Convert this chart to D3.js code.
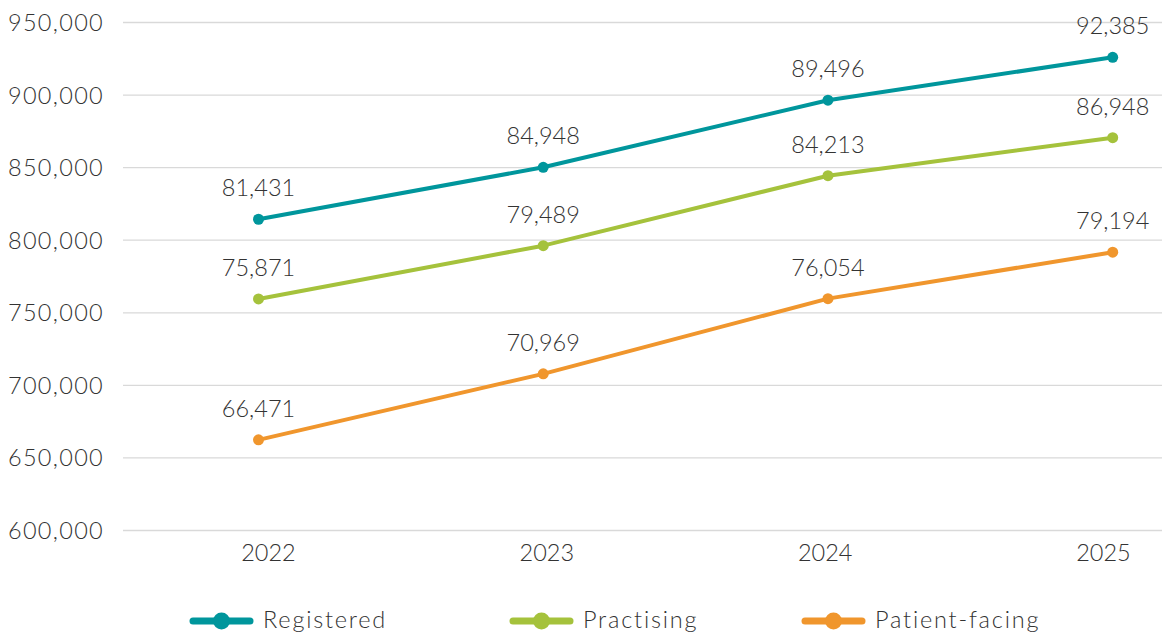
<!DOCTYPE html>
<html>
<head>
<meta charset="utf-8">
<script src="https://cdn.jsdelivr.net/npm/d3@7"></script>
<style>
  body { margin: 0; background: #fff; }
  svg text { font-family: Lato, "Open Sans", sans-serif; font-weight: 300; fill: #333; }
</style>
</head>
<body>
<svg id="chart"></svg>
<script>
// ----------------------------------------- Data -----------------------------------------

var years = ['2022', '2023', '2024', '2025'];
var seriesNames = ['Registered', 'Practising', 'Patient-facing'];
var seriesColors = ['#00969c', '#a5c23c', '#f0962d'];

// plotted values (read from point positions)
var registered = [814100, 849900, 896100, 925700];
var practising = [759200, 795900, 844100, 870300];
var patientFacing = [662100, 707600, 759400, 791400];

// printed labels
var registeredLabels = ['81,431', '84,948', '89,496', '92,385'];
var practisingLabels = ['75,871', '79,489', '84,213', '86,948'];
var patientFacingLabels = ['66,471', '70,969', '76,054', '79,194'];

var yTicks = [600000, 650000, 700000, 750000, 800000, 850000, 900000, 950000];

var series = [
  { name: seriesNames[0], color: seriesColors[0], values: registered, labels: registeredLabels },
  { name: seriesNames[1], color: seriesColors[1], values: practising, labels: practisingLabels },
  { name: seriesNames[2], color: seriesColors[2], values: patientFacing, labels: patientFacingLabels }
];

// ----------------------------------------- Chart -----------------------------------------

var width = 1162;
var height = 632;

var svg = d3.select('#chart')
  .attr('width', width)
  .attr('height', height);

var xScale = d3.scalePoint()
  .domain(years)
  .range([258.5, 1112.7]);

// year labels sit on a slightly different spread than the points
var xLabelScale = d3.scalePoint()
  .domain(years)
  .range([268, 1103]);

var yScale = d3.scaleLinear()
  .domain([600000, 950000])
  .range([530, 22]);

// Gridlines + y labels
var yAxis = svg.append('g')
  .attr('transform', 'translate(123, 0)')
  .call(d3.axisLeft(yScale)
    .tickValues(yTicks)
    .tickSize(-(width - 123))
    .tickPadding(19)
    .tickFormat(d3.format(',')));

yAxis.select('.domain').remove();
yAxis.selectAll('.tick line')
  .attr('stroke', '#d9d9d9')
  .attr('stroke-width', 1.3);
yAxis.selectAll('.tick text')
  .attr('font-size', 23.5)
  .attr('fill', '#333')
  .attr('letter-spacing', 1.3)
  .attr('dy', '0.36em');

// X labels
var xAxis = svg.append('g')
  .attr('transform', 'translate(0, 530)')
  .call(d3.axisBottom(xLabelScale).tickSize(0).tickPadding(14));

xAxis.select('.domain').remove();
xAxis.selectAll('.tick text')
  .attr('font-size', 23.5)
  .attr('fill', '#333')
  .attr('dy', '0.72em');

// Lines
var line = d3.line()
  .x((d, i) => xScale(years[i]))
  .y(d => yScale(d));

var groups = svg.selectAll('.series')
  .data(series)
  .enter()
  .append('g')
    .classed('series', true);

groups.append('path')
  .attr('d', d => line(d.values))
  .attr('fill', 'none')
  .attr('stroke', d => d.color)
  .attr('stroke-width', 4)
  .attr('stroke-linejoin', 'round');

groups.selectAll('circle')
  .data(d => d.values.map((v, i) => ({ v: v, year: years[i], color: d.color })))
  .enter()
  .append('circle')
    .attr('cx', d => xScale(d.year))
    .attr('cy', d => yScale(d.v))
    .attr('r', 5.5)
    .attr('fill', d => d.color);

groups.selectAll('.value-label')
  .data(d => d.values.map((v, i) => ({ v: v, year: years[i], label: d.labels[i] })))
  .enter()
  .append('text')
    .classed('value-label', true)
    .attr('x', d => xScale(d.year))
    .attr('y', d => yScale(d.v) - 23)
    .attr('text-anchor', 'middle')
    .attr('font-size', 23.5)
    .text(d => d.label);

// ----------------------------------------- Legend -----------------------------------------

var legendX = [193, 513, 805];

var legend = svg.selectAll('.legend')
  .data(series)
  .enter()
  .append('g')
    .classed('legend', true)
    .attr('transform', (d, i) => `translate(${legendX[i]}, 621)`);

legend.append('line')
  .attr('x1', 0)
  .attr('x2', 57)
  .attr('stroke', d => d.color)
  .attr('stroke-width', 7)
  .attr('stroke-linecap', 'round');

legend.append('circle')
  .attr('cx', 28.5)
  .attr('r', 8.5)
  .attr('fill', d => d.color);

legend.append('text')
  .attr('x', 70)
  .attr('y', 7)
  .attr('font-size', 23.5)
  .attr('letter-spacing', 1.8)
  .text(d => d.name);
</script>
</body>
</html>
